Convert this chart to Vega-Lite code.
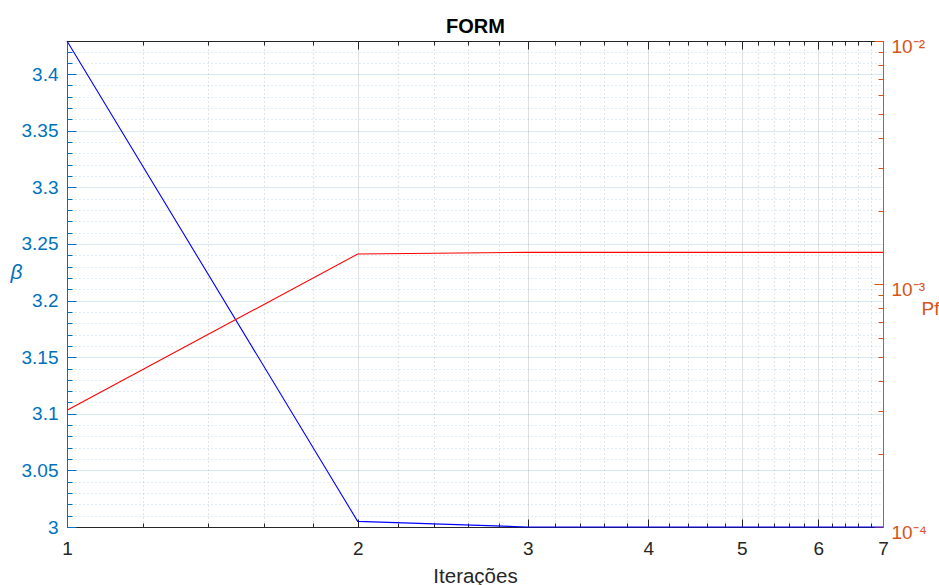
{
  "$schema": "https://vega.github.io/schema/vega-lite/v6.json",
  "width": 816,
  "height": 486,
  "autosize": {"type": "none"},
  "padding": {"left": 67, "top": 41, "right": 56, "bottom": 58},
  "background": "white",
  "config": {"font": "Liberation Sans", "view": {"stroke": null}},
  "data": {"values": [
    {"it": 1, "beta": 3.4293, "pf": 0.000302},
    {"it": 2, "beta": 3.0050, "pf": 0.001328},
    {"it": 3, "beta": 3.0000, "pf": 0.00135},
    {"it": 4, "beta": 3.0000, "pf": 0.00135},
    {"it": 5, "beta": 3.0000, "pf": 0.00135},
    {"it": 6, "beta": 3.0000, "pf": 0.00135},
    {"it": 7, "beta": 3.0000, "pf": 0.00135}
  ]},
  "resolve": {"scale": {"x": "independent", "y": "independent"}},
  "layer": [
    {
      "mark": {"type": "line", "strokeOpacity": 0},
      "encoding": {
        "x": {"field": "it", "type": "quantitative", "scale": {"type": "log", "domain": [1, 7], "nice": false},
          "axis": {"orient": "bottom", "values": [1.2,1.4,1.6,1.8,2.2,2.4,2.6,2.8,3.2,3.4,3.6,3.8,4.2,4.4,4.6,4.8,5.2,5.4,5.6,5.8,6.2,6.4,6.6,6.8],
            "labels": false, "domain": false, "title": null, "tickSize": -4, "tickColor": "#262626", "grid": true, "gridColor": "#262626", "gridOpacity": 0.25, "gridDash": [1, 3]}},
        "y": {"field": "beta", "type": "quantitative", "scale": {"domain": [3, 3.4293], "zero": false, "nice": false},
          "axis": {"orient": "left", "values": [3.01,3.02,3.03,3.04,3.06,3.07,3.08,3.09,3.11,3.12,3.13,3.14,3.16,3.17,3.18,3.19,3.21,3.22,3.23,3.24,3.26,3.27,3.28,3.29,3.31,3.32,3.33,3.34,3.36,3.37,3.38,3.39,3.41,3.42],
            "labels": false, "domain": false, "title": null, "tickSize": -5, "tickColor": "#0072BD", "grid": true, "gridColor": "#0072BD", "gridOpacity": 0.25, "gridDash": [1, 3]}}
      }
    },
    {
      "mark": {"type": "line", "strokeOpacity": 0},
      "encoding": {
        "x": {"field": "it", "type": "quantitative", "scale": {"type": "log", "domain": [1, 7], "nice": false},
          "axis": {"orient": "top", "values": [1.2,1.4,1.6,1.8,2.2,2.4,2.6,2.8,3.2,3.4,3.6,3.8,4.2,4.4,4.6,4.8,5.2,5.4,5.6,5.8,6.2,6.4,6.6,6.8],
            "labels": false, "domain": false, "title": null, "tickSize": -4, "tickColor": "#262626", "grid": false}},
        "y": {"field": "pf", "type": "quantitative", "scale": {"type": "log", "domain": [0.0001, 0.01], "nice": false},
          "axis": {"orient": "right", "values": [0.0002,0.0003,0.0004,0.0005,0.0006,0.0007,0.0008,0.0009,0.002,0.003,0.004,0.005,0.006,0.007,0.008,0.009],
            "labels": false, "domain": false, "title": null, "tickSize": -5, "tickColor": "#D95319", "grid": false}}
      }
    },
    {
      "mark": {"type": "line", "strokeOpacity": 0},
      "encoding": {
        "x": {"field": "it", "type": "quantitative", "scale": {"type": "log", "domain": [1, 7], "nice": false},
          "axis": {"orient": "top", "values": [1, 2, 3, 4, 5, 6, 7], "labels": false, "domain": true, "domainColor": "#262626", "tickSize": -8, "tickColor": "#262626", "grid": false,
            "title": "FORM", "titleFontSize": 20, "titleFontWeight": "bold", "titleColor": "#000000", "titleBaseline": "alphabetic", "titleY": -9}},
        "y": {"field": "beta", "type": "quantitative", "scale": {"domain": [3, 3.4293], "zero": false, "nice": false}, "axis": null}
      }
    },
    {
      "mark": {"type": "line", "color": "#0000FF", "strokeWidth": 1.1},
      "encoding": {
        "x": {"field": "it", "type": "quantitative", "scale": {"type": "log", "domain": [1, 7], "nice": false},
          "axis": {"orient": "bottom", "values": [1, 2, 3, 4, 5, 6, 7], "format": "d", "labelFlush": false, "labelOverlap": false,
            "labelFontSize": 19, "labelColor": "#262626", "labelPadding": 20, "tickSize": -8, "tickColor": "#262626", "domainColor": "#262626",
            "grid": true, "gridColor": "#262626", "gridOpacity": 0.15,
            "title": "Iterações", "titleFontSize": 20.5, "titleFontWeight": "normal", "titleColor": "#262626", "titleBaseline": "alphabetic", "titleY": 55}},
        "y": {"field": "beta", "type": "quantitative", "scale": {"domain": [3, 3.4293], "zero": false, "nice": false},
          "axis": {"orient": "left", "values": [3, 3.05, 3.1, 3.15, 3.2, 3.25, 3.3, 3.35, 3.4], "format": ".3~f", "labelFlush": false, "labelOverlap": false,
            "labelFontSize": 19, "labelColor": "#0072BD", "labelPadding": 18, "tickSize": -9, "tickColor": "#0072BD", "domainColor": "#0072BD",
            "grid": true, "gridColor": "#0072BD", "gridOpacity": 0.15,
            "title": "β", "titleAngle": 0, "titleFontSize": 21, "titleFontWeight": "normal", "titleFontStyle": "italic", "titleColor": "#0072BD",
            "titleAlign": "center", "titleBaseline": "middle", "titleX": -51, "titleY": 231}}
      }
    },
    {
      "mark": {"type": "line", "color": "#FF0000", "strokeWidth": 1.1},
      "encoding": {
        "x": {"field": "it", "type": "quantitative", "scale": {"type": "log", "domain": [1, 7], "nice": false}, "axis": null},
        "y": {"field": "pf", "type": "quantitative", "scale": {"type": "log", "domain": [0.0001, 0.01], "nice": false},
          "axis": {"orient": "right", "values": [0.0001, 0.001, 0.01], "labelFlush": false, "labelOverlap": false,
            "labelExpr": "datum.value < 0.0005 ? '10⁻⁴' : (datum.value < 0.005 ? '10⁻³' : '10⁻²')",
            "labelFontSize": 19, "labelColor": "#D95319", "labelPadding": 17, "labelOffset": 5, "tickSize": -9, "tickColor": "#D95319", "domainColor": "#D95319",
            "grid": false,
            "title": "Pf", "titleAngle": 0, "titleFontSize": 19, "titleFontWeight": "normal", "titleColor": "#D95319",
            "titleAlign": "left", "titleBaseline": "alphabetic", "titleX": 38, "titleY": 273}}
      }
    }
  ]
}
